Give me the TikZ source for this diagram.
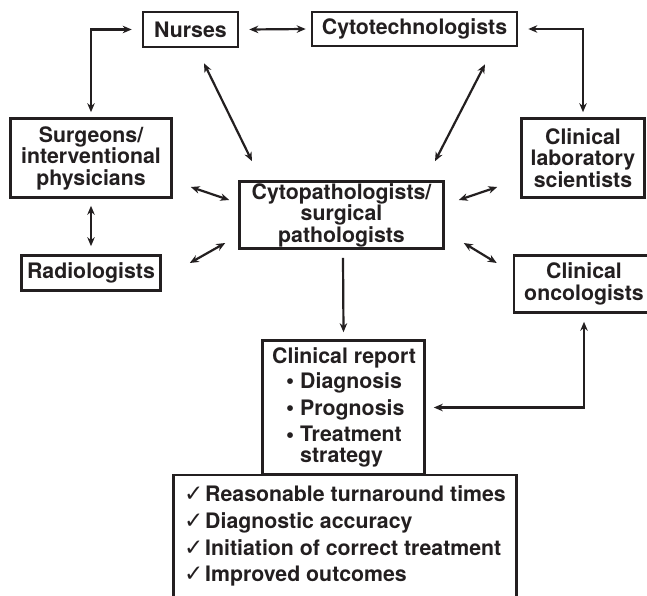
\documentclass[tikz,border=0pt]{standalone}
\usepackage{fontspec}
\setmainfont{TeX Gyre Heros}
\newfontfamily\dvfont{DejaVu Sans}
\usetikzlibrary{arrows.meta,calc}
\definecolor{ink}{HTML}{231F20}
\newcommand{\chkmark}{\makebox[21pt][l]{\dvfont\mdseries\fontsize{23}{23}\selectfont ✓}}
\newcommand{\bul}{\makebox[14pt][l]{\raisebox{-0.5pt}{\fontsize{23}{23}\selectfont •}}}
\begin{document}
\begin{tikzpicture}[x=1pt,y=-1pt,
  every node/.style={font=\fontsize{21.3}{21.5}\selectfont\bfseries, text=ink},
  box/.style={draw=ink, line width=2.6pt, rectangle, inner sep=0pt, align=center},
  txt/.style={inner sep=0pt, anchor=base west},
  arr/.style={draw=ink, line width=2.2pt, {Stealth[length=9pt,width=7.5pt]}-{Stealth[length=9pt,width=7.5pt]}},
  arrone/.style={draw=ink, line width=2.2pt, -{Stealth[length=9pt,width=7.5pt]}}]
\useasboundingbox (0,0) rectangle (647,596);
\clip (0,0) rectangle (647,596);
\fill[white] (0,0) rectangle (647,596);
% boxes
\node[box, minimum width=95, minimum height=35] (nurses) at (190.5,29.5) {Nurses};
\node[box, minimum width=205, minimum height=34] (cyto) at (414.5,29) {Cytotechnologists};
\node[box, minimum width=161, minimum height=79] (surg) at (91,158) {Surgeons/\\interventional\\physicians};
\node[box, minimum width=139, minimum height=35] (rad) at (91,273) {Radiologists};
\node[box, minimum width=204, minimum height=67] (path) at (341.5,215) {Cytopathologists/\\surgical\\pathologists};
\node[box, minimum width=123, minimum height=79] (lab) at (583,158) {Clinical\\laboratory\\scientists};
\node[box, minimum width=140, minimum height=57] (onc) at (584,284) {Clinical\\oncologists};
\node[box, minimum width=162, minimum height=134] (report) at (343.5,407.5) {};
\node[box, minimum width=343, minimum height=150] (outc) at (345,550) {};
% report text
\node[txt] (r0) at (272,363) {Clinical report};
\node[txt] (r1) at (286,388) {\bul Diagnosis};
\node[txt] (r2) at (286,415) {\bul Prognosis};
\node[txt] (r3) at (286,441.7) {\bul Treatment};
\node[txt] (r4) at (300,462.7) {strategy};
% outcomes text
\node[txt] (o1) at (184,501.7) {\chkmark Reasonable turnaround times};
\node[txt] (o2) at (184,528.4) {\chkmark Diagnostic accuracy};
\node[txt] (o3) at (184,555.1) {\chkmark Initiation of correct treatment};
\node[txt] (o4) at (184,581.8) {\chkmark Improved outcomes};
% connectors
\draw[arr] ($(nurses.east)+(10,0)$) -- ($(cyto.west)+(-5,0)$);
\draw[arr] ($(nurses.west)+(-10,0)$) -| ($(surg.north)+(0,-5)$);
\draw[arr] ($(cyto.east)+(10,0)$) -| ($(lab.north)+(0,-5)$);
\draw[arr] ($(nurses.south)+(13.5,15)$) -- ($(path.north)+(-89.5,-19)$);
\draw[arr] ($(cyto.south)+(70.5,17)$) -- ($(path.north)+(93.5,-19)$);
\draw[arr] ($(surg.east)+(18,29)$) -- ($(path.west)+(-9,-15)$);
\draw[arr] ($(rad.east)+(28,-10)$) -- ($(path.west)+(-13,28)$);
\draw[arr] ($(surg.south)+(0,7)$) -- ($(rad.north)+(0,-8)$);
\draw[arr] ($(path.east)+(14,-15)$) -- ($(lab.west)+(-23,29)$);
\draw[arr] ($(path.east)+(19,28)$) -- ($(onc.west)+(-16,-21)$);
\draw[arrone] ($(path.south)+(1.5,8)$) -- ($(report.north)+(0,-7)$);
\draw[arr] ($(onc.south)+(0,8)$) |- ($(report.east)+(8,0)$);
\end{tikzpicture}
\end{document}
